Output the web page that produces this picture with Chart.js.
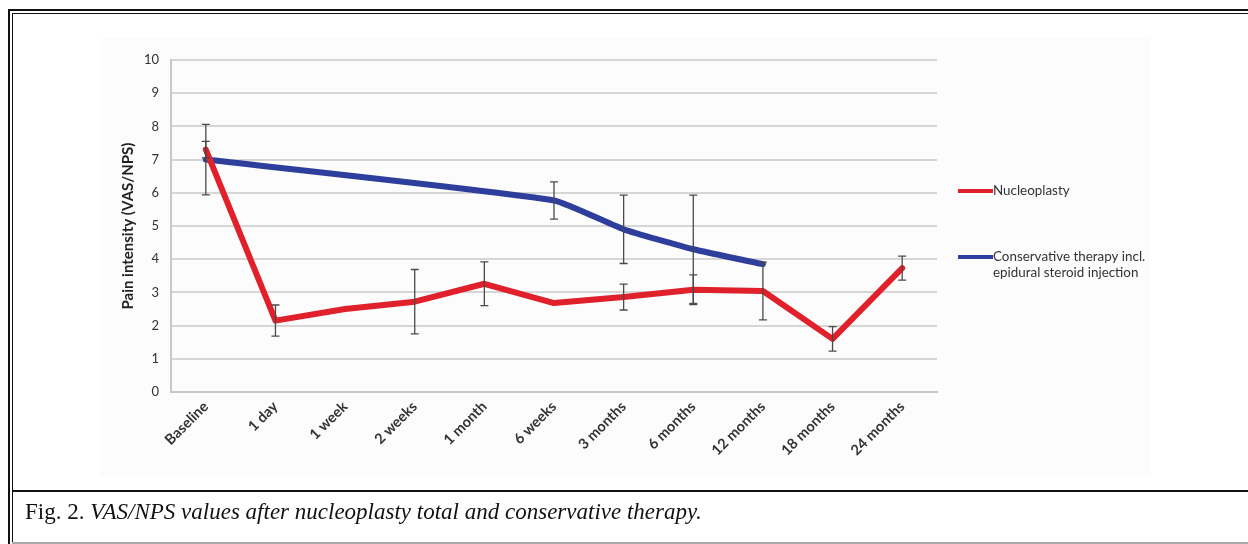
<!DOCTYPE html>
<html>
<head>
<meta charset="utf-8">
<script src="https://cdn.jsdelivr.net/npm/chart.js@4.4.1/dist/chart.umd.min.js"></script>
<style>
  html, body { margin: 0; padding: 0; background: #fff; }
  #page { position: relative; width: 1248px; height: 544px; overflow: hidden; background: #fff; }
  #plotbg { position: absolute; left: 100px; top: 38px; width: 1050px; height: 437px; background: #fcfcfc; }
  #wrap { position: absolute; left: 0; top: 0; width: 1248px; height: 544px; }
  .hl { position: absolute; background: #111; }
  #caption {
    position: absolute; left: 25px; top: 499px;
    font-family: "Liberation Serif", "DejaVu Serif", serif; font-size: 23px; color: #111;
    white-space: nowrap;
  }
  #caption i { font-style: italic; }
</style>
</head>
<body>
<div id="page">
  <div id="plotbg"></div>
  <div id="wrap"><canvas id="c" width="1248" height="544"></canvas></div>
  <!-- double frame: top and left -->
  <div class="hl" style="left:8px; top:9px; width:1240px; height:2px;"></div>
  <div class="hl" style="left:12px; top:13px; width:1236px; height:1px;"></div>
  <div class="hl" style="left:8px; top:9px; width:2px; height:535px;"></div>
  <div class="hl" style="left:12px; top:13px; width:1px; height:531px;"></div>
  <!-- caption separator and bottom edge -->
  <div class="hl" style="left:12px; top:490px; width:1236px; height:2px;"></div>
  <div class="hl" style="left:12px; top:542px; width:1236px; height:2px; background:#aaa;"></div>
  <div id="caption">Fig. 2. <i>VAS/NPS values after nucleoplasty total and conservative therapy.</i></div>
</div>
<script>
// Follow-up time points
const timePoints = ['Baseline', '1 day', '1 week', '2 weeks', '1 month', '6 weeks',
  '3 months', '6 months', '12 months', '18 months', '24 months'];

// Mean pain intensity per group
const nucleoplastyValues = [7.3, 2.15, 2.5, 2.72, 3.26, 2.68, 2.86, 3.08, 3.04, 1.6, 3.73];
const conservativeValues = [7.0, null, null, null, null, 5.77, 4.9, 4.3, 3.85, null, null];

// Error bar half-widths (null = no bar)
const nucleoplastyErr = [0.25, 0.47, null, 0.97, 0.66, null, 0.39, 0.45, 0.87, 0.37, 0.36];
const conservativeErr = [1.06, null, null, null, null, 0.56, 1.03, 1.63, null, null, null];

// Legend labels (multi-line)
const nucleoplastyLabel = ['Nucleoplasty'];
const conservativeLabel = ['Conservative therapy incl.', 'epidural steroid injection'];

const yTicks = [0, 1, 2, 3, 4, 5, 6, 7, 8, 9, 10];

const RED = '#e0202a';
const BLUE = '#2e3e9c';
const FONT = 'Lato, "Open Sans", sans-serif';

const errorBars = {
  id: 'errorBars',
  afterDatasetsDraw(chart) {
    const ctx = chart.ctx;
    const xs = chart.scales.x, ys = chart.scales.y;
    ctx.save();
    ctx.strokeStyle = '#4a4a4a';
    ctx.lineWidth = 1.3;
    chart.data.datasets.forEach(ds => {
      const errs = ds.errors || [];
      ds.data.forEach((v, i) => {
        const e = errs[i];
        if (v == null || e == null) return;
        const x = xs.getPixelForValue(i);
        const yt = ys.getPixelForValue(v + e);
        const yb = ys.getPixelForValue(v - e);
        ctx.beginPath();
        ctx.moveTo(x, yt); ctx.lineTo(x, yb);
        ctx.moveTo(x - 4, yt); ctx.lineTo(x + 4, yt);
        ctx.moveTo(x - 4, yb); ctx.lineTo(x + 4, yb);
        ctx.stroke();
      });
    });
    ctx.restore();
  }
};

const sideLegend = {
  id: 'sideLegend',
  afterDraw(chart) {
    const ctx = chart.ctx;
    const area = chart.chartArea;
    const x0 = area.right + 21;
    const rows = [131, 197];
    ctx.save();
    ctx.font = '13.4px ' + FONT;
    ctx.fillStyle = '#333';
    ctx.textBaseline = 'middle';
    chart.data.datasets.forEach((ds, k) => {
      const y = area.top + rows[k];
      ctx.strokeStyle = ds.borderColor;
      ctx.lineWidth = 4;
      ctx.beginPath();
      ctx.moveTo(x0, y); ctx.lineTo(x0 + 35, y);
      ctx.stroke();
      ds.legendLines.forEach((t, j) => {
        ctx.fillText(t, x0 + 35, y + j * 16);
      });
    });
    ctx.restore();
  }
};

new Chart(document.getElementById('c'), {
  type: 'line',
  data: {
    labels: timePoints,
    datasets: [
      {
        label: nucleoplastyLabel.join(' '),
        legendLines: nucleoplastyLabel,
        data: nucleoplastyValues,
        errors: nucleoplastyErr,
        borderColor: RED,
        backgroundColor: RED,
        borderWidth: 6,
        pointRadius: 0,
        tension: 0,
        borderJoinStyle: 'round',
        borderCapStyle: 'round'
      },
      {
        label: conservativeLabel.join(' '),
        legendLines: conservativeLabel,
        data: conservativeValues,
        errors: conservativeErr,
        borderColor: BLUE,
        backgroundColor: BLUE,
        borderWidth: 6,
        pointRadius: 0,
        spanGaps: true,
        tension: 0.15,
        borderJoinStyle: 'round',
        borderCapStyle: 'round'
      }
    ]
  },
  options: {
    responsive: false,
    animation: false,
    layout: { padding: { top: 60, left: 119, right: 311, bottom: 82 } },
    plugins: {
      legend: { display: false },
      tooltip: { enabled: false }
    },
    scales: {
      x: {
        offset: true,
        grid: { display: false, drawTicks: false },
        border: { display: true, color: '#c8c8c8', width: 2 },
        ticks: {
          maxRotation: 45, minRotation: 45,
          padding: 6,
          color: '#333',
          font: { family: FONT, size: 14.5, weight: 'bold' }
        },
        afterFit(s) { s.height = 70; }
      },
      y: {
        min: 0, max: 10,
        afterBuildTicks(s) { s.ticks = yTicks.map(v => ({ value: v })); },
        grid: { color: '#d6d6d6', lineWidth: 2, drawTicks: false },
        border: { display: true, color: '#c8c8c8', width: 2 },
        ticks: {
          padding: 12,
          color: '#333',
          font: { family: FONT, size: 13 }
        },
        title: {
          display: true,
          text: 'Pain intensity (VAS/NPS)',
          color: '#222',
          font: { family: FONT, size: 15, weight: 'bold' },
          padding: { top: 0, bottom: 0 }
        },
        afterFit(s) { s.width = 52; }
      }
    }
  },
  plugins: [errorBars, sideLegend]
});
</script>
</body>
</html>
